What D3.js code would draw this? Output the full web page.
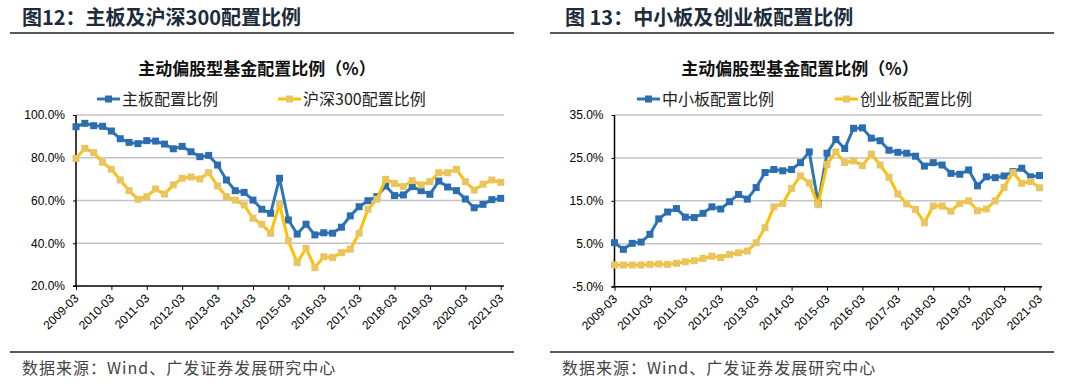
<!DOCTYPE html>
<html>
<head>
<meta charset="utf-8">
<script src="https://cdn.jsdelivr.net/npm/d3@7"></script>
<style>
  body { margin: 0; background: #fff; }
  svg { display: block; }
  .axis text { font-family: "Liberation Sans", Arial, sans-serif; font-size: 12px; fill: #000; }
  .axis path, .axis line { stroke: #000; }
</style>
</head>
<body>
<div class="chart"></div>
<script>
// quarter labels 2009-03 .. 2021-03
const quarters = [];
for (let y = 2009; y <= 2021; y++) {
  for (const m of ['03', '06', '09', '12']) {
    if (y === 2021 && m !== '03') continue;
    quarters.push(y + '-' + m);
  }
}
const yearTicks = ['2009-03', '2010-03', '2011-03', '2012-03', '2013-03', '2014-03', '2015-03',
  '2016-03', '2017-03', '2018-03', '2019-03', '2020-03', '2021-03'];

// 图12 (%)
const mainBoard = [94.5, 96.1, 95.0, 94.7, 92.5, 88.9, 87.2, 86.6, 88.0, 87.8,
  86.4, 84.2, 85.3, 82.8, 80.5, 81.1, 76.6, 69.6, 64.6, 63.8,
  60.2, 55.9, 54.0, 70.4, 50.9, 44.3, 48.9, 43.9, 44.9, 44.7,
  47.5, 52.8, 57.1, 59.9, 61.8, 66.8, 62.3, 62.6, 66.5, 64.6,
  62.9, 69.1, 66.3, 64.6, 60.7, 56.6, 58.2, 60.4, 61.0];
const hs300 = [79.7, 84.4, 82.4, 77.9, 74.6, 69.6, 64.6, 60.6, 61.8, 65.4,
  63.0, 67.3, 70.4, 71.0, 70.1, 73.0, 66.8, 61.8, 60.2, 57.9,
  51.7, 48.9, 44.7, 58.2, 41.1, 30.9, 37.6, 28.6, 33.7, 33.4,
  35.6, 37.2, 44.7, 55.9, 60.6, 69.9, 68.0, 66.5, 69.3, 67.3,
  68.8, 73.0, 73.0, 74.6, 68.8, 64.9, 67.6, 69.6, 68.5];
const leftTicks = [20, 40, 60, 80, 100];

// 图13 (%)
const smeBoard = [5.25, 3.7, 5.1, 5.4, 7.2, 10.8, 12.4, 13.2, 11.2, 11.1,
  12.1, 13.6, 13.1, 14.8, 16.5, 15.4, 18.1, 21.6, 22.3, 22.0,
  22.3, 23.9, 26.4, 14.5, 26.1, 29.3, 27.2, 31.9, 32.0, 29.6,
  29.0, 26.8, 26.3, 26.1, 25.4, 23.1, 23.9, 23.35, 21.4, 21.2,
  22.2, 18.5, 20.6, 20.4, 20.8, 21.8, 22.6, 20.6, 20.9];
const gemBoard = [0.05, 0.05, 0.05, 0.05, 0.2, 0.3, 0.2, 0.45, 0.8, 1.05,
  1.6, 2.1, 1.8, 2.5, 2.9, 3.3, 5.25, 8.75, 13.6, 14.4,
  17.9, 20.8, 19.2, 14.1, 23.5, 26.4, 23.9, 24.3, 23.2, 25.9,
  23.35, 20.5, 16.6, 14.3, 13.0, 9.9, 13.8, 13.8, 12.6, 14.4,
  15.0, 12.7, 13.1, 15.0, 18.15, 21.6, 19.1, 19.5, 18.05];
const rightTicks = [-5, 5, 15, 25, 35];

const blue = '#2E75B6';
const blueMarker = '#2C6DB0';
const yellow = '#FFC000';
const yellowMarker = '#E9C463';
const cjk = '"Noto Sans CJK SC", "Liberation Sans", sans-serif';

const svg = d3.select('.chart').append('svg').attr('width', 1080).attr('height', 386);

function drawPanel(p) {
  const g = svg.append('g').attr('transform', `translate(${p.ox},0)`);

  // header + rules
  g.append('text').attr('x', p.headX).attr('y', 25)
    .attr('font-family', cjk).attr('font-size', 20).attr('font-weight', 'bold')
    .attr('fill', '#1d2b3a').text(p.header);
  g.append('line').attr('x1', 10).attr('x2', 514).attr('y1', 33).attr('y2', 33)
    .attr('stroke', '#222').attr('stroke-width', 1.5);
  g.append('line').attr('x1', 10).attr('x2', 514).attr('y1', 352).attr('y2', 352)
    .attr('stroke', '#222').attr('stroke-width', 1.5);
  g.append('text').attr('x', 22).attr('y', 374)
    .attr('font-family', cjk).attr('font-size', 16).attr('letter-spacing', 1)
    .attr('fill', '#444').text('数据来源：Wind、广发证券发展研究中心');

  // chart title
  g.append('text').attr('x', p.titleX).attr('y', 75).attr('text-anchor', 'middle')
    .attr('font-family', cjk).attr('font-size', 17).attr('font-weight', 'bold')
    .attr('fill', '#111').text('主动偏股型基金配置比例（%）');

  const x = d3.scalePoint().domain(quarters).range([p.x0, p.x1]);
  const y = d3.scaleLinear().domain(p.yDomain).range([p.yBottom, 115]);

  // gridlines
  g.append('g').selectAll('line').data(p.ticks.slice(1)).join('line')
    .attr('x1', p.x0).attr('x2', p.gridEnd)
    .attr('y1', (d) => y(d)).attr('y2', (d) => y(d))
    .attr('stroke', '#c4c4c4').attr('stroke-width', 1.5);

  // axes
  const yAxis = d3.axisLeft(y).tickValues(p.ticks).tickSize(3).tickPadding(8)
    .tickFormat((d) => d.toFixed(1) + '%');
  g.append('g').attr('class', 'axis').attr('transform', `translate(${p.x0},0)`)
    .call(yAxis)
    .call((a) => a.select('.domain').attr('d', `M-3,${p.yBottom}H0V115`).attr('stroke-width', 1.5))
    .call((a) => a.selectAll('text').attr('font-size', 12.5));

  const xAxis = d3.axisBottom(x).tickValues(yearTicks).tickSize(4);
  g.append('g').attr('class', 'axis').attr('transform', `translate(0,${p.yBottom})`)
    .call(xAxis)
    .call((a) => a.select('.domain').attr('d', `M${p.x0},0H${p.gridEnd}`).attr('stroke-width', 1.5))
    .call((a) => a.selectAll('text')
      .attr('y', 0).attr('dy', 0)
      .attr('text-anchor', 'end')
      .attr('transform', 'translate(3,13) rotate(-45)'));

  // series
  const line = d3.line().x((d, i) => x(quarters[i])).y((d) => y(d));
  p.series.forEach((s) => {
    g.append('path').datum(s.values)
      .attr('fill', 'none').attr('stroke', s.color).attr('stroke-width', 3)
      .attr('stroke-linejoin', 'round').attr('d', line);
    g.append('g').selectAll('rect').data(s.values).join('rect')
      .attr('x', (d, i) => x(quarters[i]) - 3.5).attr('y', (d) => y(d) - 3.5)
      .attr('width', 7).attr('height', 7).attr('fill', s.marker);
  });

  // legend
  p.series.forEach((s) => {
    const lg = g.append('g').attr('transform', `translate(${s.legendX},99)`);
    lg.append('line').attr('x1', 0).attr('x2', 23).attr('stroke', s.color).attr('stroke-width', 3);
    lg.append('rect').attr('x', 8).attr('y', -3.5).attr('width', 7).attr('height', 7).attr('fill', s.marker);
    lg.append('text').attr('x', 25).attr('y', 6)
      .attr('font-family', cjk).attr('font-size', 16).attr('fill', '#222').text(s.name);
  });
}

drawPanel({
  ox: 0,
  header: '图12：主板及沪深300配置比例',
  headX: 22,
  titleX: 257,
  x0: 76, x1: 500.7, gridEnd: 504,
  yBottom: 286,
  yDomain: [20, 100],
  ticks: leftTicks,
  series: [
    { name: '主板配置比例', values: mainBoard, color: blue, marker: blueMarker, legendX: 97 },
    { name: '沪深300配置比例', values: hs300, color: yellow, marker: yellowMarker, legendX: 278 }
  ]
});

drawPanel({
  ox: 540,
  header: '图 13：中小板及创业板配置比例',
  headX: 25,
  titleX: 260,
  x0: 74.5, x1: 499.5, gridEnd: 502,
  yBottom: 286.7,
  yDomain: [-5, 35],
  ticks: rightTicks,
  series: [
    { name: '中小板配置比例', values: smeBoard, color: blue, marker: blueMarker, legendX: 97 },
    { name: '创业板配置比例', values: gemBoard, color: yellow, marker: yellowMarker, legendX: 295 }
  ]
});
</script>
</body>
</html>
